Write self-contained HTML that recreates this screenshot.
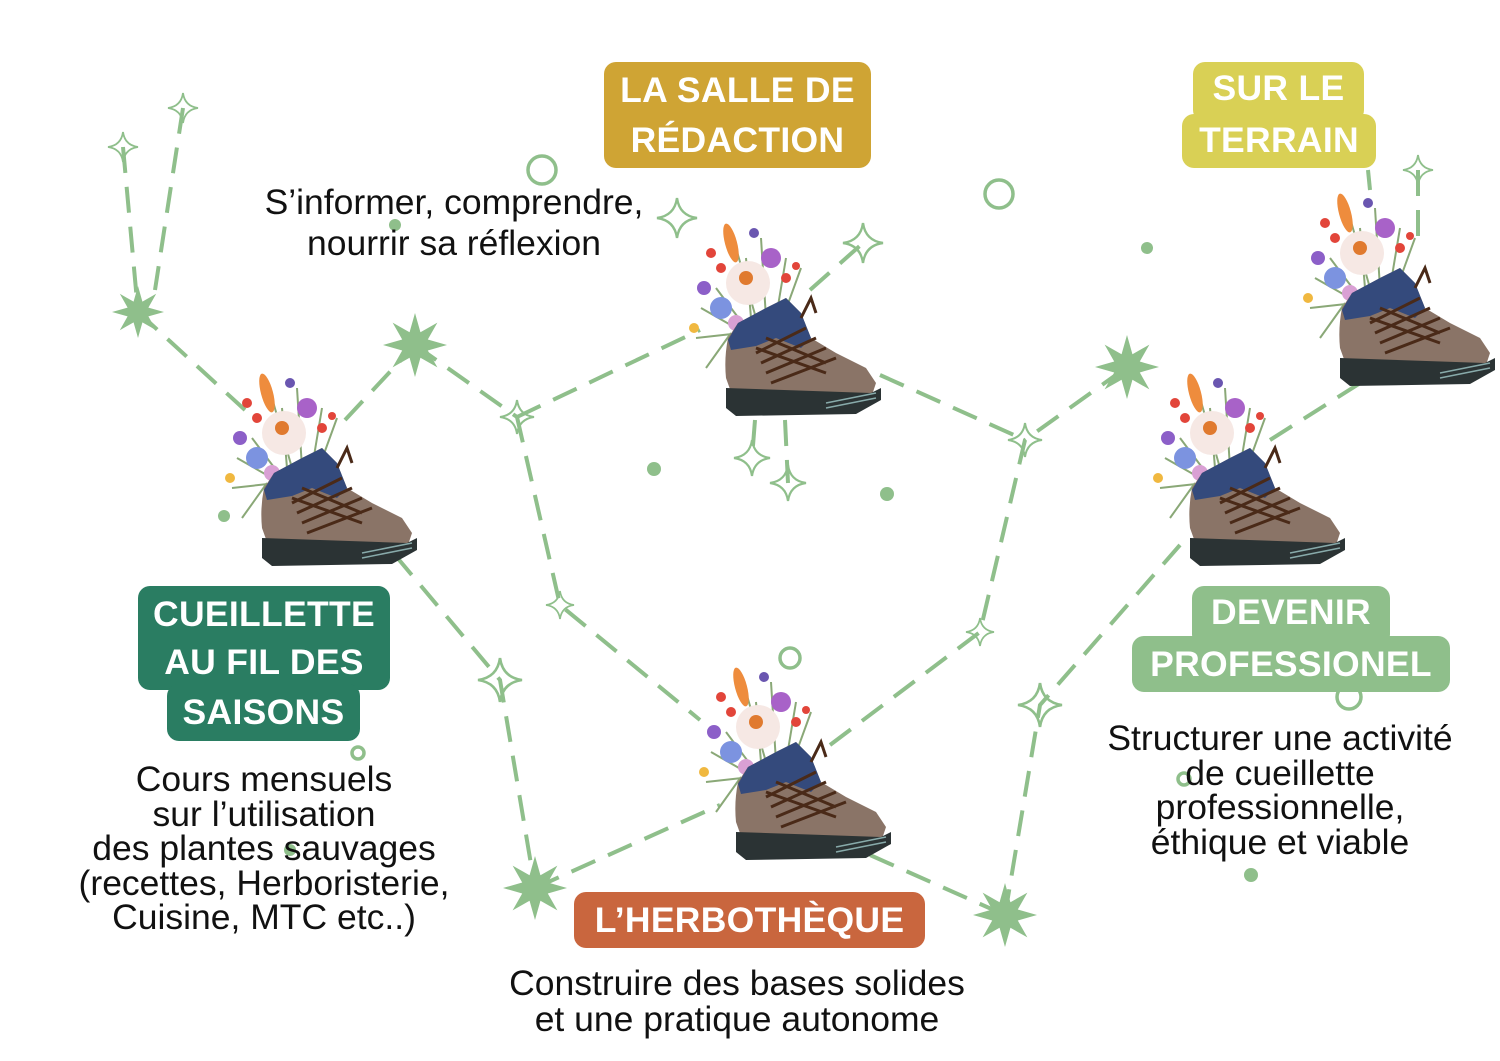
<!DOCTYPE html>
<html><head><meta charset="utf-8">
<style>
html,body{margin:0;padding:0;background:#fff}
#w{position:relative;width:1500px;height:1061px;overflow:hidden;font-family:"Liberation Sans",sans-serif}
svg{position:absolute;left:0;top:0}
.lb{position:absolute;color:#fff;font-weight:bold;font-size:35.5px;line-height:52px;text-align:center;border-radius:12px;letter-spacing:0.3px;white-space:nowrap}
.t{position:absolute;color:#111;font-size:35.5px;line-height:34.5px;text-align:center;white-space:nowrap}
</style></head><body><div id="w">
<svg width="1500" height="1061" viewBox="0 0 1500 1061">
<defs>
<path id="s4" d="M0,-1 Q0.12,-0.12 1,0 Q0.12,0.12 0,1 Q-0.12,0.12 -1,0 Q-0.12,-0.12 0,-1Z"/>
<path id="s8" d="M0,-1 L0.17,-0.4 L0.7,-0.7 L0.4,-0.17 L1,0 L0.4,0.17 L0.7,0.7 L0.17,0.4 L0,1 L-0.17,0.4 L-0.7,0.7 L-0.4,0.17 L-1,0 L-0.4,-0.17 L-0.7,-0.7 L-0.17,-0.4Z"/>
<g id="boot">
 <g stroke="#8aa877" stroke-width="2" fill="none">
  <path d="M70,110 L40,70 M75,100 L70,40 M80,100 L60,30 M90,100 L85,20 M100,100 L110,40 M105,105 L125,50 M60,110 L25,90 M65,115 L20,120 M55,115 L30,150"/>
 </g>
 <ellipse cx="55" cy="25" rx="6" ry="20" fill="#ee8c3d" transform="rotate(-15 55 25)"/>
 <circle cx="72" cy="65" r="22" fill="#f6e8e4"/>
 <circle cx="70" cy="60" r="7" fill="#e07a2f"/>
 <circle cx="95" cy="40" r="10" fill="#a862c8"/>
 <circle cx="45" cy="90" r="11" fill="#7c93e0"/>
 <circle cx="28" cy="70" r="7" fill="#8c5fc8"/>
 <circle cx="35" cy="35" r="5" fill="#e2453a"/><circle cx="45" cy="50" r="5" fill="#e2453a"/>
 <circle cx="110" cy="60" r="5" fill="#e2453a"/><circle cx="120" cy="48" r="4" fill="#e2453a"/>
 <circle cx="78" cy="15" r="5" fill="#6a56b0"/><circle cx="18" cy="110" r="5" fill="#f0b840"/>
 <circle cx="60" cy="105" r="8" fill="#d9a0d4"/>
 <path d="M50,160 Q48,140 52,120 L62,105 L90,90 L110,80 L125,95 L135,120 L160,135 L190,150 L200,165 L195,180 L140,188 L60,188Z" fill="#8a7467"/>
 <path d="M52,122 L62,105 L90,90 L110,80 L125,95 L135,120 L125,130 L100,120 L80,128 L55,132Z" fill="#344a7c"/>
 <path d="M50,170 L195,175 L205,170 L205,182 L180,196 L60,198 L50,190Z" fill="#2b3334"/>
 <path d="M150,185 L200,175 M150,190 L200,180" stroke="#8aa" stroke-width="1.5"/>
 <g stroke="#4a2a18" stroke-width="3" fill="none"><path d="M80,135 L130,110 M85,145 L140,120 M90,155 L150,130 M95,165 L160,140 M80,130 L150,155 M90,120 L150,145 M125,100 L135,80 L140,95"/></g>
</g>
</defs>
<g stroke="#8fbf8b" stroke-width="4" fill="none" stroke-dasharray="26 14">
<path d="M123,147 L138,312"/><path d="M183,108 L155,290"/>
<path d="M138,312 L245,410"/><path d="M345,420 L415,345"/>
<path d="M415,345 L517,417"/><path d="M517,417 L700,330"/>
<path d="M517,417 L560,605 L700,720"/>
<path d="M395,555 L500,680 L535,888"/>
<path d="M535,888 L720,805"/><path d="M870,855 L1005,915"/>
<path d="M1005,915 L1040,705 L1180,545"/>
<path d="M830,745 L980,632 L1025,440 L1127,367"/>
<path d="M880,375 L1025,440"/>
<path d="M810,290 L863,243"/><path d="M755,420 L752,458"/><path d="M785,420 L788,483"/>
<path d="M1370,190 L1368,170"/><path d="M1418,170 L1418,250"/><path d="M1270,440 L1365,380"/>
</g>
<g fill="none" stroke="#8fbf8b" stroke-width="3.5">
<circle cx="542" cy="170" r="14"/><circle cx="999" cy="194" r="14"/><circle cx="790" cy="658" r="10"/>
<circle cx="358" cy="753" r="6"/><circle cx="1349" cy="697" r="12"/><circle cx="1184" cy="779" r="6"/>
<g stroke-width="0.12">
<use href="#s4" transform="translate(123,147) scale(15)"/><use href="#s4" transform="translate(183,108) scale(15)"/>
<use href="#s4" transform="translate(517,417) scale(17)"/><use href="#s4" transform="translate(677,218) scale(20)"/>
<use href="#s4" transform="translate(863,243) scale(20)"/><use href="#s4" transform="translate(752,458) scale(18)"/>
<use href="#s4" transform="translate(788,483) scale(18)"/><use href="#s4" transform="translate(560,605) scale(14)"/>
<use href="#s4" transform="translate(500,680) scale(22)"/><use href="#s4" transform="translate(980,632) scale(14)"/>
<use href="#s4" transform="translate(1025,440) scale(17)"/><use href="#s4" transform="translate(1040,705) scale(22)"/>
<use href="#s4" transform="translate(1418,170) scale(15)"/>
</g></g>
<g fill="#8fbf8b">
<use href="#s8" transform="translate(138,312) scale(26)"/><use href="#s8" transform="translate(415,345) scale(32)"/>
<use href="#s8" transform="translate(1127,367) scale(32)"/><use href="#s8" transform="translate(535,888) scale(32)"/>
<use href="#s8" transform="translate(1005,915) scale(32)"/>
<circle cx="395" cy="225" r="6"/><circle cx="1147" cy="248" r="6"/><circle cx="654" cy="469" r="7"/>
<circle cx="887" cy="494" r="7"/><circle cx="224" cy="516" r="6"/><circle cx="290" cy="850" r="6"/><circle cx="1251" cy="875" r="7"/>
</g>
<use href="#boot" transform="translate(212,368)"/>
<use href="#boot" transform="translate(676,218)"/>
<use href="#boot" transform="translate(1290,188)"/>
<use href="#boot" transform="translate(1140,368)"/>
<use href="#boot" transform="translate(686,662)"/>
</svg>

<div class="lb" style="left:604px;top:62px;width:267px;height:106px;background:#cfa434;line-height:50px;padding-top:3px;box-sizing:border-box">LA SALLE DE<br>RÉDACTION</div>
<div class="lb" style="left:1193px;top:62px;width:171px;height:60px;background:#d9d055">SUR LE</div>
<div class="lb" style="left:1182px;top:114px;width:194px;height:54px;background:#d9d055">TERRAIN</div>
<div class="lb" style="left:138px;top:586px;width:252px;height:104px;background:#2a7d62;line-height:48px;padding-top:4px;box-sizing:border-box">CUEILLETTE<br>AU FIL DES</div>
<div class="lb" style="left:167px;top:684px;width:193px;height:57px;background:#2a7d62;line-height:56px">SAISONS</div>
<div class="lb" style="left:1192px;top:586px;width:198px;height:60px;background:#8fbf8b">DEVENIR</div>
<div class="lb" style="left:1132px;top:636px;width:318px;height:56px;background:#8fbf8b;line-height:56px">PROFESSIONEL</div>
<div class="lb" style="left:574px;top:892px;width:351px;height:56px;background:#c9663e;line-height:56px">L’HERBOTHÈQUE</div>

<div class="t" style="left:254px;top:182px;width:400px;line-height:41px">S’informer, comprendre,<br>nourrir sa réflexion</div>
<div class="t" style="left:64px;top:762px;width:400px">Cours mensuels<br>sur l’utilisation<br>des plantes sauvages<br>(recettes, Herboristerie,<br>Cuisine, MTC etc..)</div>
<div class="t" style="left:1080px;top:721px;width:400px">Structurer une activité<br>de cueillette<br>professionnelle,<br>éthique et viable</div>
<div class="t" style="left:487px;top:965px;width:500px;line-height:36px">Construire des bases solides<br>et une pratique autonome</div>
</div></body></html>
